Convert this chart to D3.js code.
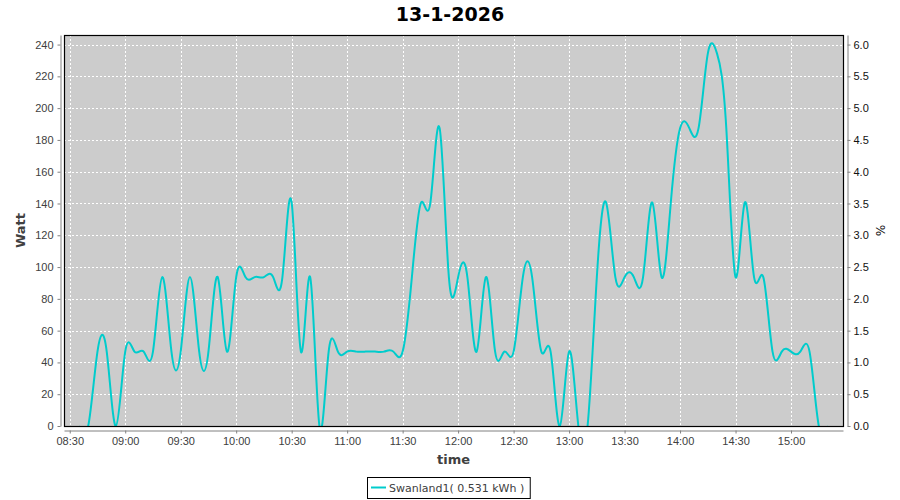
<!DOCTYPE html>
<html lang="en">
<head>
<meta charset="UTF-8">
<title>13-1-2026</title>
<style>
  body { margin: 0; background: #fff; }
  svg { display: block; font-family: "DejaVu Sans", sans-serif; }
  .axis path, .axis line { stroke: #808080; }
  .axis text { fill: #404040; font-size: 11px; }
  .yaxis2 text { fill: #111; }
</style>
</head>
<body>
<svg id="chart" width="900" height="500"></svg>
<script src="https://cdnjs.cloudflare.com/ajax/libs/d3/7.8.5/d3.min.js"></script>
<script>

// readings every 5 minutes (watt)
let times = ["08:35","08:40","08:45","08:50","08:55","09:00","09:05","09:10","09:15","09:20",
  "09:25","09:30","09:35","09:40","09:45","09:50","09:55","10:00","10:05","10:10",
  "10:15","10:20","10:25","10:30","10:35","10:40","10:45","10:50","10:55","11:00",
  "11:05","11:10","11:15","11:20","11:25","11:30","11:35","11:40","11:45","11:50",
  "11:55","12:00","12:05","12:10","12:15","12:20","12:25","12:30","12:35","12:40",
  "12:45","12:50","12:55","13:00","13:05","13:10","13:15","13:20","13:25","13:30",
  "13:35","13:40","13:45","13:50","13:55","14:00","14:05","14:10","14:15","14:20",
  "14:25","14:30","14:35","14:40","14:45","14:50","14:55","15:00","15:05","15:10",
  "15:15","15:20"];
let watts = [0,0,46.8,46.8,0,46.8,46.8,46.8,46.8,93.7,
  46.8,46.8,93.7,46.8,46.8,93.7,46.8,93.7,93.7,93.7,
  93.7,93.7,93.7,140.6,46.8,93.7,0,46.8,46.8,46.8,
  46.8,46.8,46.8,46.8,46.8,46.8,93.7,140.6,140.6,187.4,
  93.7,93.7,93.7,46.8,93.7,46.8,46.8,46.8,93.7,93.7,
  46.8,46.8,0,46.8,0,0,93.7,140.6,93.7,93.7,
  93.7,93.7,140.6,93.7,140.6,187.4,187.4,187.4,234.3,234.3,
  187.4,93.7,140.6,93.7,93.7,46.8,46.8,46.8,46.8,46.8,
  0,0];

let title = "13-1-2026";
let seriesName = "Swanland1( 0.531 kWh )";
let xTickLabels = ["08:30","09:00","09:30","10:00","10:30","11:00","11:30","12:00","12:30","13:00","13:30","14:00","14:30","15:00"];
let yTicks = [0,20,40,60,80,100,120,140,160,180,200,220,240];
let pctTicks = [0,0.5,1,1.5,2,2.5,3,3.5,4,4.5,5,5.5,6];

let width = 900, height = 500;
let plot = {left: 64, right: 843, top: 35, bottom: 426};
let lineColor = "#00cccc";

let parse = d3.timeParse("%Y-%m-%d %H:%M");
let day = "2026-01-13 ";
let data = times.map((t, i) => ({t: parse(day + t), v: watts[i]}));

let svg = d3.select("#chart");

// axis ranges like the original: 2% margin on time, 5% on top of values
let t0 = data[0].t, t1 = data[data.length - 1].t;
let span = t1 - t0;
let x = d3.scaleTime()
    .domain([new Date(+t0 - span * 0.02), new Date(+t1 + span * 0.02)])
    .range([plot.left, plot.right]);

let vmax = d3.max(watts) * 1.05;
let y = d3.scaleLinear().domain([0, vmax]).range([plot.bottom, plot.top]);
let y2 = d3.scaleLinear().domain([0, vmax / 40]).range([plot.bottom, plot.top]);

let xTicks = xTickLabels.map(s => parse(day + s));

// plot background
svg.append("rect")
    .attr("x", plot.left).attr("y", plot.top)
    .attr("width", plot.right - plot.left).attr("height", plot.bottom - plot.top)
    .attr("fill", "#cccccc");

// gridlines
let grid = svg.append("g").attr("stroke", "#fff").attr("stroke-width", 1).attr("stroke-dasharray", "2,2");
grid.selectAll(".gx").data(xTicks).enter().append("line")
    .attr("x1", d => Math.round(x(d)) + 0.5).attr("x2", d => Math.round(x(d)) + 0.5)
    .attr("y1", plot.top).attr("y2", plot.bottom);
grid.selectAll(".gy").data(yTicks).enter().append("line")
    .attr("x1", plot.left).attr("x2", plot.right)
    .attr("y1", d => Math.round(y(d)) + 0.5).attr("y2", d => Math.round(y(d)) + 0.5);

// the series
svg.append("clipPath").attr("id", "clip")
  .append("rect")
    .attr("x", plot.left + 1).attr("y", plot.top + 1)
    .attr("width", plot.right - plot.left - 1).attr("height", plot.bottom - plot.top - 1);

let line = d3.line()
    .x(d => x(d.t))
    .y(d => y(d.v))
    .curve(d3.curveNatural);

svg.append("path")
    .datum(data)
    .attr("clip-path", "url(#clip)")
    .attr("fill", "none")
    .attr("stroke", lineColor)
    .attr("stroke-width", 2)
    .attr("d", line);

// plot outline
svg.append("rect")
    .attr("x", plot.left + 0.5).attr("y", plot.top + 0.5)
    .attr("width", plot.right - plot.left).attr("height", plot.bottom - plot.top)
    .attr("fill", "none").attr("stroke", "#000").attr("stroke-width", 1.2);

// axes
svg.append("g")
    .attr("class", "axis")
    .attr("transform", "translate(0," + (plot.bottom + 4.5) + ")")
    .call(d3.axisBottom(x).tickValues(xTicks).tickFormat(d3.timeFormat("%H:%M")).tickSizeOuter(0).tickSizeInner(3).tickPadding(4));

svg.append("g")
    .attr("class", "axis")
    .attr("transform", "translate(" + (plot.left - 3.5) + ",0)")
    .call(d3.axisLeft(y).tickValues(yTicks).tickSizeOuter(0).tickSizeInner(3).tickPadding(4));

svg.append("g")
    .attr("class", "axis yaxis2")
    .attr("transform", "translate(" + (plot.right + 4.5) + ",0)")
    .call(d3.axisRight(y2).tickValues(pctTicks).tickFormat(d3.format(".1f")).tickSizeOuter(0).tickSizeInner(3).tickPadding(3));

// titles
svg.append("text")
    .attr("x", 450).attr("y", 21)
    .attr("text-anchor", "middle")
    .style("font-size", "19px").style("font-weight", "bold").attr("fill", "#000")
    .text(title);

svg.append("text")
    .attr("x", (plot.left + plot.right) / 2).attr("y", 464)
    .attr("text-anchor", "middle")
    .style("font-size", "13px").style("font-weight", "bold").attr("fill", "#404040")
    .text("time");

svg.append("text")
    .attr("transform", "translate(25," + (plot.top + plot.bottom) / 2 + ") rotate(-90)")
    .attr("text-anchor", "middle")
    .style("font-size", "13px").style("font-weight", "bold").attr("fill", "#404040")
    .text("Watt");

svg.append("text")
    .attr("transform", "translate(876," + (plot.top + plot.bottom) / 2 + ") rotate(90)")
    .attr("text-anchor", "middle")
    .style("font-size", "12px").attr("fill", "#111")
    .text("%");

// legend
let legend = svg.append("g");
let lt = legend.append("text")
    .attr("x", 389).attr("y", 492)
    .style("font-size", "11px").attr("fill", "#404040")
    .text(seriesName);
let tw = lt.node().getComputedTextLength();
legend.insert("rect", "text")
    .attr("x", 367.5).attr("y", 477.5)
    .attr("width", 389 + tw + 6 - 367.5).attr("height", 21)
    .attr("fill", "#fff").attr("stroke", "#000").attr("stroke-width", 1);
legend.append("line")
    .attr("x1", 371).attr("x2", 386).attr("y1", 487.5).attr("y2", 487.5)
    .attr("stroke", lineColor).attr("stroke-width", 2);

</script>
</body>
</html>
